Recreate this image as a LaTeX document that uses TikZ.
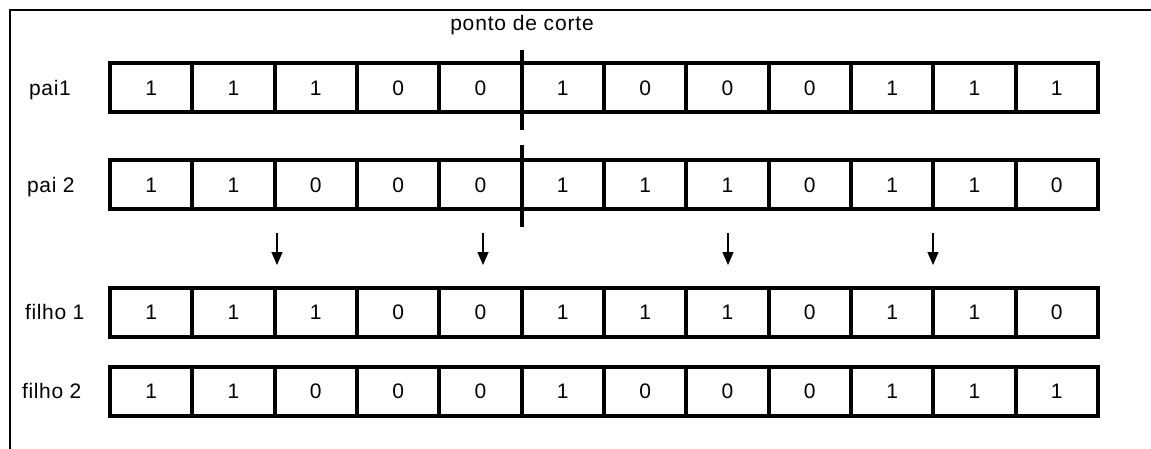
\documentclass[tikz,border=0pt]{standalone}
\usepackage{fontspec}
\setmainfont{Liberation Sans}
\usetikzlibrary{arrows.meta}
\begin{document}
\begin{tikzpicture}[x=1pt,y=-1pt,
  cell/.style={draw,line width=4pt,minimum width=82.33pt,minimum height=49pt,inner sep=0pt,outer sep=0pt,font=\fontsize{21}{25}\selectfont},
  lbl/.style={anchor=base west,inner sep=0pt,font=\fontsize{21}{25}\selectfont\addfontfeature{LetterSpace=3}},
  frameline/.style={line width=2pt},
  cutline/.style={line width=3.2pt},
  arr/.style={line width=1.2pt,-{Triangle[length=13pt,width=11pt]}}]
\useasboundingbox (0,0) rectangle (1151,449);
% frame
\coordinate (fTR) at (1151,10);
\coordinate (fTL) at (10,10);
\coordinate (fBL) at (10,449);
\draw[frameline] (fTR) -- (fTL) -- (fBL);
% title
\node[inner sep=0pt,anchor=base,font=\fontsize{21}{25}\selectfont\addfontfeature{LetterSpace=4}] (title) at (522,31) {ponto de corte};
% rows
\foreach \r/\yc/\lab/\lx/\vals in {
  1/88/pai1/29/{1,1,1,0,0,1,0,0,0,1,1,1},
  2/185/pai 2/27/{1,1,0,0,0,1,1,1,0,1,1,0},
  3/312/filho 1/25/{1,1,1,0,0,1,1,1,0,1,1,0},
  4/391/filho 2/22/{1,1,0,0,0,1,0,0,0,1,1,1}}{
  \node[lbl] (lab\r) at (\lx,\yc+7.5) {\lab};
  \foreach \v [count=\i] in \vals {
    \node[cell] (c\r-\i) at ({110+82.33*(\i-0.5)},\yc) {\v};
  }
}
% cut line
\coordinate (cutA1) at (522,50);
\coordinate (cutB1) at (522,130);
\coordinate (cutA2) at (522,145);
\coordinate (cutB2) at (522,227);
\draw[cutline] (cutA1) -- (cutB1);
\draw[cutline] (cutA2) -- (cutB2);
% arrows
\foreach \k/\x in {1/277,2/483,3/728,4/933}{
  \coordinate (aS\k) at (\x,233);
  \coordinate (aE\k) at (\x,265);
  \draw[arr] (aS\k) -- (aE\k);
}
\end{tikzpicture}
\end{document}
